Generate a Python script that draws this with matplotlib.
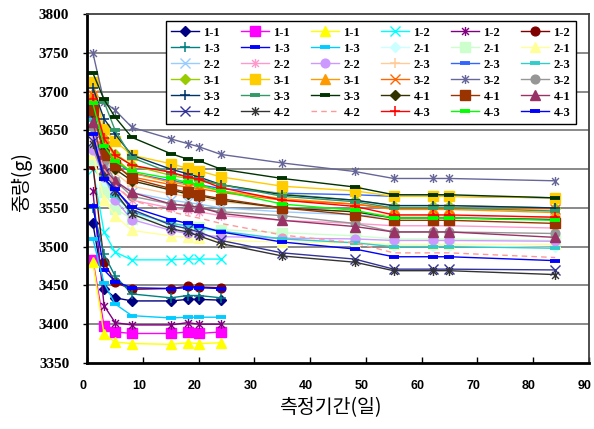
import matplotlib
matplotlib.use("Agg")
import matplotlib.pyplot as plt
import matplotlib.transforms as mtransforms
from matplotlib.path import Path

# ---------------- data ----------------
days_short = [1, 3, 5, 8, 15, 18, 20, 24]
days_long = [1, 3, 5, 8, 15, 18, 20, 24, 35, 48, 55, 62, 65, 84]

# group 1 (short series)
g11_a = [3530, 3446, 3434, 3430, 3430, 3432, 3432, 3431]
g11_b = [3483, 3398, 3390, 3388, 3388, 3390, 3388, 3390]
g11_c = [3480, 3387, 3377, 3375, 3374, 3376, 3375, 3376]
g12_a = [3600, 3519, 3493, 3483, 3483, 3484, 3484, 3484]
g12_b = [3572, 3424, 3402, 3399, 3399, 3402, 3400, 3400]
g12_c = [3605, 3480, 3454, 3445, 3446, 3449, 3448, 3447]
g13_a = [3550, 3490, 3462, 3439, 3434, 3437, 3437, 3434]
g13_b = [3553, 3470, 3455, 3447, 3446, 3447, 3447, 3446]
g13_c = [3510, 3453, 3426, 3411, 3408, 3409, 3409, 3409]

# groups 2-4 (long series)
g21_a = [3630, 3580, 3560, 3542, 3530, 3526, 3523, 3518, 3510, 3505, 3501, 3501, 3501, 3499]
g21_b = [3612, 3570, 3549, 3536, 3530, 3527, 3525, 3522, 3518, 3514, 3510, 3510, 3510, 3508]
g21_c = [3620, 3560, 3540, 3521, 3514, 3512, 3511, 3508, 3506, 3505, 3503, 3503, 3503, 3503]
g22_a = [3658, 3610, 3585, 3570, 3560, 3557, 3555, 3550, 3545, 3541, 3538, 3538, 3538, 3535]
g22_b = [3640, 3600, 3578, 3560, 3550, 3547, 3545, 3540, 3534, 3530, 3527, 3527, 3527, 3524]
g22_c = [3625, 3590, 3560, 3535, 3521, 3517, 3515, 3513, 3511, 3510, 3508, 3508, 3508, 3507]
g23_a = [3652, 3620, 3595, 3578, 3568, 3565, 3563, 3558, 3550, 3545, 3540, 3540, 3540, 3538]
g23_b = [3668, 3630, 3610, 3595, 3585, 3582, 3580, 3575, 3569, 3567, 3565, 3565, 3565, 3563]
g23_c = [3664, 3590, 3565, 3545, 3530, 3527, 3524, 3520, 3510, 3505, 3500, 3500, 3500, 3498]
g31_a = [3688, 3640, 3620, 3605, 3592, 3588, 3585, 3580, 3568, 3560, 3553, 3553, 3553, 3550]
g31_b = [3712, 3652, 3636, 3618, 3607, 3601, 3598, 3590, 3578, 3572, 3565, 3565, 3565, 3563]
g31_c = [3700, 3640, 3615, 3595, 3583, 3580, 3578, 3572, 3562, 3555, 3548, 3548, 3548, 3544]
g32_a = [3696, 3630, 3605, 3590, 3580, 3577, 3575, 3570, 3560, 3555, 3549, 3549, 3549, 3549]
g32_b = [3750, 3687, 3676, 3654, 3639, 3633, 3629, 3619, 3608, 3597, 3588, 3588, 3588, 3585]
g32_c = [3655, 3610, 3585, 3565, 3555, 3552, 3550, 3545, 3540, 3530, 3519, 3519, 3519, 3517]
g33_a = [3705, 3665, 3645, 3618, 3600, 3594, 3590, 3580, 3567, 3560, 3553, 3553, 3553, 3550]
g33_b = [3682, 3687, 3650, 3615, 3595, 3590, 3587, 3580, 3565, 3558, 3550, 3550, 3550, 3546]
g33_c = [3724, 3690, 3667, 3641, 3620, 3613, 3611, 3600, 3588, 3577, 3567, 3567, 3567, 3563]
g41_a = [3672, 3625, 3600, 3585, 3573, 3568, 3566, 3560, 3550, 3545, 3537, 3537, 3537, 3535]
g41_b = [3676, 3618, 3606, 3588, 3575, 3570, 3567, 3562, 3550, 3541, 3534, 3534, 3534, 3530]
g41_c = [3661, 3600, 3585, 3570, 3555, 3553, 3551, 3543, 3534, 3526, 3519, 3519, 3519, 3512]
g42_a = [3636, 3595, 3575, 3548, 3528, 3523, 3519, 3508, 3492, 3484, 3471, 3471, 3471, 3470]
g42_b = [3633, 3590, 3570, 3542, 3523, 3519, 3514, 3504, 3488, 3480, 3469, 3469, 3469, 3464]
g42_c = [3648, 3600, 3580, 3560, 3545, 3540, 3537, 3530, 3515, 3505, 3492, 3492, 3492, 3486]
g43_a = [3691, 3640, 3618, 3605, 3596, 3590, 3587, 3576, 3560, 3552, 3541, 3541, 3541, 3538]
g43_b = [3685, 3630, 3610, 3597, 3588, 3583, 3580, 3572, 3555, 3547, 3537, 3537, 3537, 3534]
g43_c = [3645, 3587, 3574, 3551, 3535, 3530, 3527, 3519, 3506, 3497, 3487, 3487, 3487, 3482]

labels = ["1-1", "1-1", "1-1", "1-2", "1-2", "1-2", "1-3", "1-3", "1-3",
          "2-1", "2-1", "2-1", "2-2", "2-2", "2-2", "2-3", "2-3", "2-3",
          "3-1", "3-1", "3-1", "3-2", "3-2", "3-2", "3-3", "3-3", "3-3",
          "4-1", "4-1", "4-1", "4-2", "4-2", "4-2", "4-3", "4-3", "4-3"]

values = [g11_a, g11_b, g11_c, g12_a, g12_b, g12_c, g13_a, g13_b, g13_c,
          g21_a, g21_b, g21_c, g22_a, g22_b, g22_c, g23_a, g23_b, g23_c,
          g31_a, g31_b, g31_c, g32_a, g32_b, g32_c, g33_a, g33_b, g33_c,
          g41_a, g41_b, g41_c, g42_a, g42_b, g42_c, g43_a, g43_b, g43_c]

colors = ["#000080", "#FF00FF", "#FFFF00", "#00FFFF", "#800080", "#800000",
          "#008080", "#0000FF", "#00CCFF", "#CCFFFF", "#CCFFCC", "#FFFF99",
          "#99CCFF", "#FF99CC", "#CC99FF", "#FFCC99", "#3366FF", "#33CCCC",
          "#99CC00", "#FFCC00", "#FF9900", "#FF6600", "#666699", "#969696",
          "#003366", "#339966", "#003300", "#333300", "#993300", "#993366",
          "#333399", "#333333", "#FF9999", "#FF0000", "#00FF00", "#0000FF"]

star = Path([(-1, -1), (1, 1), (-1, 1), (1, -1), (0, -1.3), (0, 1.3)],
            [Path.MOVETO, Path.LINETO, Path.MOVETO, Path.LINETO, Path.MOVETO, Path.LINETO])

markers = ["D", "s", "^", "x", "star", "o", "+", "_", "_",
           "D", "s", "^", "x", "star", "o", "+", "_", "_",
           "D", "s", "^", "x", "star", "o", "+", "_", "_",
           "D", "s", "^", "x", "star", "none", "+", "_", "_"]

# ---------------- figure ----------------
fig = plt.figure(figsize=(5.94, 4.29), dpi=100)
ax = fig.add_axes([0.147, 0.154, 0.844, 0.813])

ax.set_xlim(0, 90)
ax.set_ylim(3350, 3800)
ax.set_xticks(range(0, 91, 10))
ax.set_yticks(range(3350, 3801, 50))
for yv in range(3400, 3800, 50):
    ax.axhline(yv, color="#808080", lw=1.3, zorder=0)

handles = []
for i, (lab, vals, col, mk) in enumerate(zip(labels, values, colors, markers)):
    xs = days_short if len(vals) == len(days_short) else days_long
    kw = dict(color=col, lw=1.0, zorder=2 + i * 0.01)
    if mk == "star":
        kw.update(marker=star, ms=6.5, mew=1.0, mec=col)
    elif mk == "none":
        kw.update(marker=None, linestyle=(0, (4, 3)))
    elif mk == "_":
        kw.update(marker="_", ms=7, mew=2.8, mec=col)
    elif mk == "x":
        kw.update(marker="x", ms=6.5, mew=1.0, mec=col)
    elif mk == "+":
        kw.update(marker="+", ms=7.5, mew=1.1, mec=col)
    elif mk == "D":
        kw.update(marker="D", ms=5, mfc=col, mec=col)
    elif mk == "s":
        kw.update(marker="s", ms=6.5, mfc=col, mec=col)
    elif mk == "^":
        kw.update(marker="^", ms=6.5, mfc=col, mec=col)
    elif mk == "o":
        kw.update(marker="o", ms=6.3, mfc=col, mec=col)
    (ln,) = ax.plot(xs, vals, label=lab, **kw)
    handles.append(ln)

# spines
for s in ["left", "bottom"]:
    ax.spines[s].set_linewidth(2.0)
    ax.spines[s].set_color("black")
for s in ["top", "right"]:
    ax.spines[s].set_linewidth(1.3)
    ax.spines[s].set_color("#404040")

ax.tick_params(axis="x", direction="in", length=4, width=1, pad=12, top=False)
ax.tick_params(axis="y", direction="out", length=3, width=1, pad=10, right=False)
shift = mtransforms.ScaledTranslation(-4 / 100, 0, fig.dpi_scale_trans)
for t in ax.get_xticklabels():
    t.set_fontfamily("Liberation Sans")
    t.set_fontweight("bold")
    t.set_fontsize(9)
    t.set_transform(t.get_transform() + shift)
for t in ax.get_yticklabels():
    t.set_fontfamily("Liberation Serif")
    t.set_fontweight("bold")
    t.set_fontsize(11)

fig.text(0.556, 0.049, "측정기간(일)", ha="center", va="center",
         fontsize=14, family=["Noto Sans CJK KR", "DejaVu Sans"])
fig.text(0.036, 0.576, "중량(g)", ha="center", va="center", rotation=90,
         fontsize=14, family=["Noto Sans CJK KR", "DejaVu Sans"])

# legend: row-major order with 6 columns
order = [r * 6 + c for c in range(6) for r in range(6)]
leg = ax.legend([handles[k] for k in order], [labels[k] for k in order],
                ncol=6, loc="upper left", bbox_to_anchor=(0.1565, 0.98),
                prop={"family": "Liberation Serif", "weight": "bold", "size": 9},
                handlelength=2.24, handletextpad=0.32, columnspacing=1.7,
                labelspacing=0.32, borderpad=0.45, borderaxespad=0.0,
                numpoints=1, fancybox=False, framealpha=1.0,
                edgecolor="black")
leg.get_frame().set_linewidth(1.0)
leg.set_zorder(10)

fig.savefig("out.png", dpi=100)
